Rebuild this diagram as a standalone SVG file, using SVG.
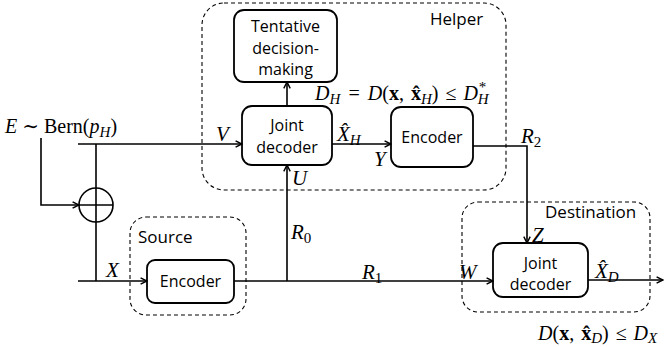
<svg xmlns="http://www.w3.org/2000/svg" width="667" height="347" viewBox="0 0 667 347">
<defs>
<style>
.box{fill:#fff;stroke:#000;stroke-width:1.8}
.grp{fill:none;stroke:#000;stroke-width:1.1;stroke-dasharray:4 3}
.ln{fill:none;stroke:#000;stroke-width:1.6}
.t{font-family:"Open Sans","Liberation Sans",sans-serif;font-size:16px;fill:#000;text-anchor:middle}
.g{font-family:"Open Sans","Liberation Sans",sans-serif;font-size:17px;fill:#000}
.m{font-family:"Liberation Serif","DejaVu Serif",serif;font-size:21px;font-style:italic;fill:#000}
.f{font-size:20px;word-spacing:2px}
.s{font-size:15px}
.u{font-style:normal}
.b{font-style:normal;font-weight:bold}
</style>
<marker id="ar" viewBox="0 0 10 10" refX="9" refY="5" markerWidth="8" markerHeight="8" markerUnits="userSpaceOnUse" orient="auto">
<path d="M1,1 L9,5 L1,9" fill="none" stroke="#000" stroke-width="1.8"/>
</marker>
</defs>

<g id="groups">
<rect id="helper-region" class="grp" x="202" y="3" width="304" height="187" rx="22"/>
<rect id="source-region" class="grp" x="130" y="217" width="116" height="98" rx="16"/>
<rect id="destination-region" class="grp" x="462" y="202" width="188" height="110" rx="16"/>
<text class="g" x="430" y="25">Helper</text>
<text class="g" x="138" y="243">Source</text>
<text class="g" x="545" y="218">Destination</text>
</g>

<g id="tentative">
<rect class="box" x="234" y="10" width="103" height="72" rx="10"/>
<text class="t" x="285.5" y="32">Tentative</text>
<text class="t" x="285.5" y="53.5">decision-</text>
<text class="t" x="285.5" y="75">making</text>
</g>

<g id="helper-decoder">
<rect class="box" x="242" y="106" width="90" height="59" rx="10"/>
<text class="t" x="287" y="131">Joint</text>
<text class="t" x="287" y="153">decoder</text>
</g>

<g id="helper-encoder">
<rect class="box" x="391" y="107" width="82" height="60" rx="10"/>
<text class="t" x="432" y="143">Encoder</text>
</g>

<g id="source-encoder">
<rect class="box" x="147" y="260" width="87" height="43" rx="8"/>
<text class="t" x="190.5" y="287">Encoder</text>
</g>

<g id="dest-decoder">
<rect class="box" x="493" y="243" width="95" height="54" rx="10"/>
<text class="t" x="540.5" y="269">Joint</text>
<text class="t" x="540.5" y="290">decoder</text>
</g>

<g id="xor">
<circle class="ln" cx="96" cy="205" r="17"/>
<line class="ln" x1="79" y1="205" x2="113" y2="205"/>
</g>

<g id="connectors">
<path class="ln" d="M78,144 H242" marker-end="url(#ar)"/>
<path class="ln" d="M96,144 V281"/>
<path class="ln" d="M41,138 V205 H79" marker-end="url(#ar)"/>
<path class="ln" d="M78,281 H147" marker-end="url(#ar)"/>
<path class="ln" d="M234,281 H493" marker-end="url(#ar)"/>
<path class="ln" d="M287,281 V165" marker-end="url(#ar)"/>
<path class="ln" d="M287,106 V82" marker-end="url(#ar)"/>
<path class="ln" d="M332,144 H391" marker-end="url(#ar)"/>
<path class="ln" d="M473,146 H527 V243" marker-end="url(#ar)"/>
<path class="ln" d="M588,280 H663" marker-end="url(#ar)"/>
</g>

<g id="labels">
<text class="m" x="5" y="133" style="font-size:20px">E ∼ <tspan class="u">Bern(</tspan>p<tspan class="s" dy="4">H</tspan><tspan class="u" dy="-4">)</tspan></text>
<text class="m" x="216" y="141">V</text>
<text class="m" x="337" y="141">X̂<tspan class="s" dy="4">H</tspan></text>
<text class="m" x="374" y="166">Y</text>
<text class="m" x="292" y="185">U</text>
<text class="m" x="291" y="239">R<tspan class="s u" dy="4">0</tspan></text>
<text class="m" x="362" y="279">R<tspan class="s u" dy="4">1</tspan></text>
<text class="m" x="521" y="143">R<tspan class="s u" dy="4">2</tspan></text>
<text class="m" x="106" y="277">X</text>
<text class="m" x="459" y="279">W</text>
<text class="m" x="532" y="242">Z</text>
<text class="m" x="595" y="278">X̂<tspan class="s" dy="4">D</tspan></text>
<text class="m f" x="315" y="100">D<tspan class="s" dy="4">H</tspan><tspan dy="-4"> = D</tspan><tspan class="u">(</tspan><tspan class="b">x</tspan><tspan class="u">, </tspan><tspan class="b">x̂</tspan><tspan class="s" dy="4">H</tspan><tspan class="u" dy="-4">) ≤ </tspan>D<tspan class="s" dy="4">H</tspan><tspan class="s u" dx="-10" dy="-12">*</tspan></text>
<text class="m f" x="538" y="340">D<tspan class="u">(</tspan><tspan class="b">x</tspan><tspan class="u">, </tspan><tspan class="b">x̂</tspan><tspan class="s" dy="3">D</tspan><tspan class="u" dy="-3">) ≤ </tspan>D<tspan class="s" dy="3">X</tspan></text>
</g>
</svg>
